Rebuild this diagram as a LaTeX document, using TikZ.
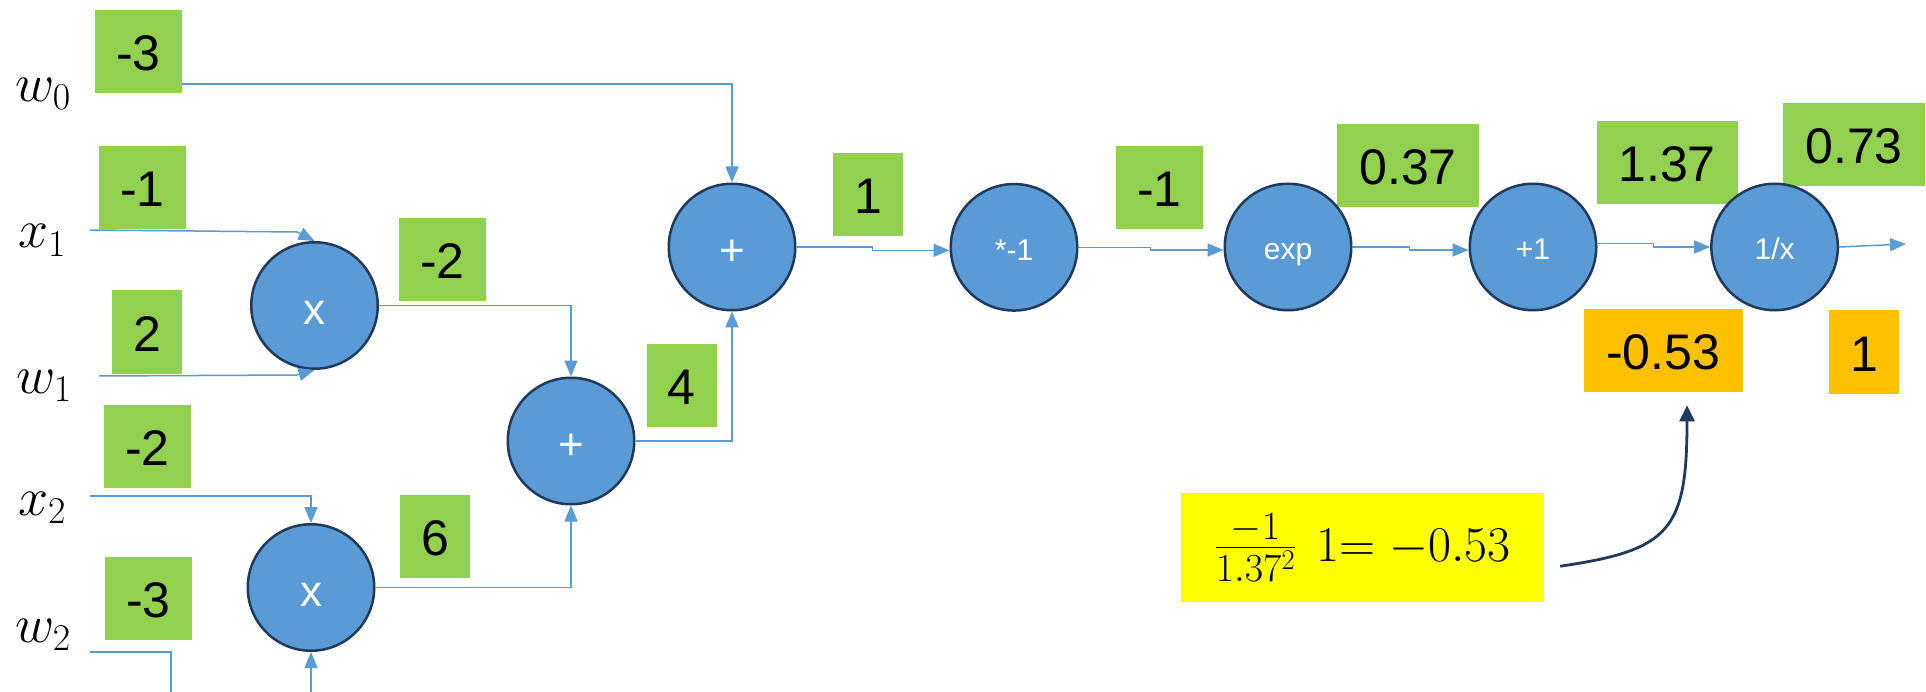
\RequirePackage{fix-cm}
\documentclass[tikz,border=0pt]{standalone}
\usepackage[no-math]{fontspec}
\newfontfamily\arial{Liberation Sans}
\usetikzlibrary{arrows.meta,calc}
\definecolor{valgreen}{HTML}{92D050}
\definecolor{gradorange}{HTML}{FFC000}
\definecolor{hlyellow}{HTML}{FFFF00}
\definecolor{opblue}{HTML}{5B9BD5}
\definecolor{opedge}{HTML}{1F3A5C}
\definecolor{wire}{HTML}{5B9BD5}

\begin{document}
\begin{tikzpicture}[x=1pt,y=-1pt,
  opnode/.style={circle, fill=opblue, draw=opedge, line width=2.5pt, minimum size=126.5pt,
    inner sep=0pt, text=white, text depth=0pt},
  opsmall/.style={opnode, font=\arial\fontsize{30}{36}\selectfont, text height=26pt},
  opbig/.style={opnode, font=\arial\fontsize{44}{52}\selectfont, text height=37pt},
  valbox/.style={inner sep=0pt, minimum height=83pt, font=\arial\fontsize{50}{60}\selectfont,
    text height=38pt, text depth=0pt},
  fwdbox/.style={valbox, fill=valgreen},
  gradbox/.style={valbox, fill=gradorange},
  invar/.style={anchor=base west, inner sep=0pt, font=\fontsize{54}{64}\selectfont},
  wireline/.style={draw=wire, line width=1.5pt},
  wirearrow/.style={wireline, -{Triangle[length=16pt,width=13pt]}},
  notearrow/.style={draw=opedge, line width=2.8pt, -{Triangle[length=16pt,width=15pt]}}
]
\useasboundingbox (0,0) rectangle (1926,692);

% input variables
\node[invar] (lw0) at (15,101.7) {$w_0$};
\node[invar] (lx1) at (18,248) {$x_1$};
\node[invar] (lw1) at (16,393) {$w_1$};
\node[invar] (lx2) at (18,515) {$x_2$};
\node[invar] (lw2) at (15,642) {$w_2$};

% forward values
\node[fwdbox, minimum width=87pt] (vw0) at (138.5,51.5) {-3};
\node[fwdbox, minimum width=87pt] (vx1) at (142.5,187.5) {-1};
\node[fwdbox, minimum width=70pt] (vw1) at (147,332) {2};
\node[fwdbox, minimum width=87pt] (vx2) at (147.5,446.5) {-2};
\node[fwdbox, minimum width=87pt] (vw2) at (148.5,598.5) {-3};
\node[fwdbox, minimum width=87pt] (vm1) at (442.5,259.3) {-2};
\node[fwdbox, minimum width=70pt] (vm2) at (435,536.3) {6};
\node[fwdbox, minimum width=70pt] (vp1) at (681.7,385.3) {4};
\node[fwdbox, minimum width=70pt] (vp2) at (868,194.3) {1};
\node[fwdbox, minimum width=87pt] (vneg) at (1159.5,187.3) {-1};
\node[fwdbox, minimum width=142pt] (vexp) at (1408,165.3) {0.37};
\node[fwdbox, minimum width=141pt] (vadd) at (1667,162.3) {1.37};
\node[fwdbox, minimum width=142pt] (vinv) at (1854,144.3) {0.73};

% gradients
\node[gradbox, minimum width=159pt] (ga) at (1663,350.3) {-0.53};
\node[gradbox, minimum width=70pt] (gb) at (1864.4,352) {1};

% operation nodes
\node[opbig] (m1) at (314.5,305.5) {x};
\node[opbig] (m2) at (311,587.5) {x};
\node[opbig] (p1) at (571,441) {+};
\node[opbig] (p2) at (732,247) {+};
\node[opsmall] (neg) at (1014,247.3) {*-1};
\node[opsmall] (expn) at (1288,247) {exp};
\node[opsmall] (add1) at (1533,247) {+1};
\node[opsmall] (inv) at (1774.6,247) {1/x};

% local gradient formula
\node[fill=hlyellow, minimum width=363pt, minimum height=109pt, inner sep=0pt,
  font=\fontsize{50}{60}\selectfont] (fml) at (1362.5,547.2)
  {{\fontsize{57}{64}\selectfont$\frac{-1}{1.37^{2}}$}\hskip20pt$1{=}\hskip14pt{-}0.53$};

% free ends of the wires
\coordinate (sw0) at (182,84);
\coordinate (sx1) at (90,230);
\coordinate (kx1) at (297,232);
\coordinate (sw1) at (99,376);
\coordinate (kw1) at (297,375);
\coordinate (sx2) at (90,496);
\coordinate (sw2) at (90,652);
\coordinate (ew2) at (171,692);
\coordinate (sm2) at (311,692);
\coordinate (outp) at (1906,244);

% wires
\draw[wirearrow] (sw0) -| (p2.north);
\draw[wirearrow] (sx1) -- (kx1) -- (m1.north);
\draw[wirearrow] (sw1) -- (kw1) -- (m1.south);
\draw[wirearrow] (sx2) -| (m2.north);
\draw[wireline] (sw2) -| (ew2);
\draw[wirearrow] (sm2) -- (m2.south);
\draw[wirearrow] (m1.east) -| (p1.north);
\draw[wirearrow] (m2.east) -| (p1.south);
\draw[wirearrow] (p1.east) -| (p2.south);
\draw[wirearrow] (p2.east) -- ++(76,0) |- ($(neg.west)+(0,3)$);
\draw[wirearrow] (neg.east) -- ++(72,0) |- ($(expn.west)+(0,3)$);
\draw[wirearrow] (expn.east) -- ++(57,0) |- ($(add1.west)+(0,3)$);
\draw[wirearrow] ($(add1.east)+(0,-3.5)$) -- ++(56,0) |- (inv.west);
\draw[wirearrow] (inv.east) -- (outp);

% formula to gradient
\draw[notearrow] ($(fml.east)+(16,19)$) .. controls +(110,-16) and +(0,125) .. ($(ga.south)+(24,13.3)$);
\end{tikzpicture}
\end{document}
